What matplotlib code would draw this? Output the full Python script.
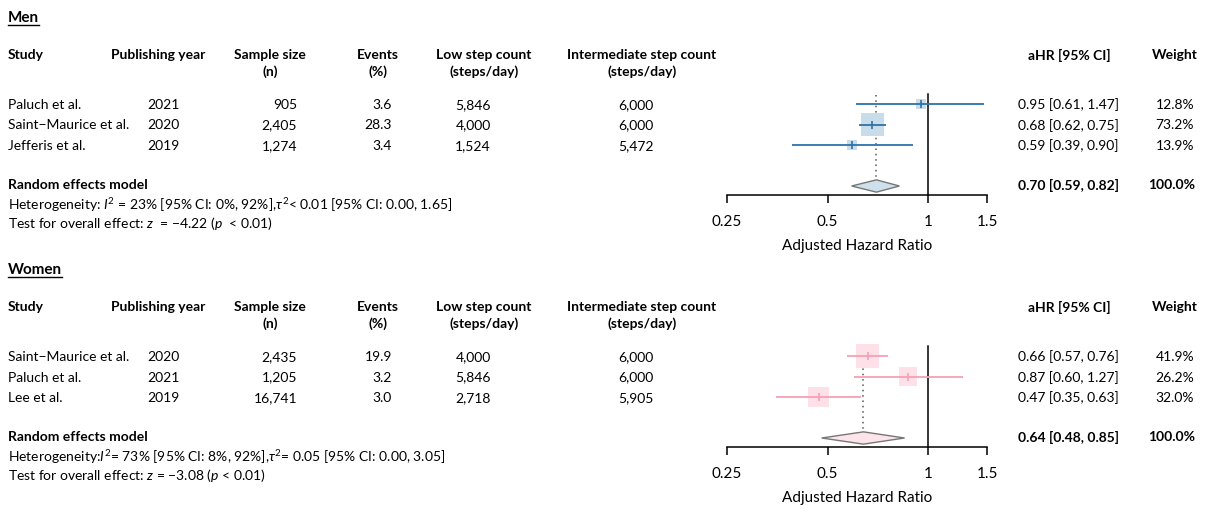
import numpy as np
import matplotlib
matplotlib.use("Agg")
import matplotlib.pyplot as plt
from matplotlib.lines import Line2D
from matplotlib.transforms import blended_transform_factory

plt.rcParams["font.family"] = ["Lato", "DejaVu Sans"]
plt.rcParams["mathtext.fontset"] = "custom"
plt.rcParams["mathtext.rm"] = "Lato"
plt.rcParams["mathtext.it"] = "Lato:italic"
plt.rcParams["mathtext.bf"] = "Lato:bold"

FS = 10

# ---- data ----
header_top = ["Study", "Publishing year", "Sample size", "Events", "Low step count",
              "Intermediate step count", "aHR [95% CI]", "Weight"]
header_bottom = ["", "", "(n)", "(%)", "(steps/day)", "(steps/day)", "", ""]

men_studies = ["Paluch et al.", "Saint\u2212Maurice et al.", "Jefferis et al."]
men_years = ["2021", "2020", "2019"]
men_n = ["905", "2,405", "1,274"]
men_events = ["3.6", "28.3", "3.4"]
men_low = ["5,846", "4,000", "1,524"]
men_mid = ["6,000", "6,000", "5,472"]
men_hr = [0.95, 0.68, 0.59]
men_lo = [0.61, 0.62, 0.39]
men_hi = [1.47, 0.75, 0.90]
men_weight = [12.8, 73.2, 13.9]
men_pooled = (0.70, 0.59, 0.82)
men_het = r"Heterogeneity: $I^2$ = 23% [95% CI: 0%, 92%],$\tau^2$< 0.01 [95% CI: 0.00, 1.65]"
men_test = r"Test for overall effect: $z$  = $-$4.22 ($p$  < 0.01)"

women_studies = ["Saint\u2212Maurice et al.", "Paluch et al.", "Lee et al."]
women_years = ["2020", "2021", "2019"]
women_n = ["2,435", "1,205", "16,741"]
women_events = ["19.9", "3.2", "3.0"]
women_low = ["4,000", "5,846", "2,718"]
women_mid = ["6,000", "6,000", "5,905"]
women_hr = [0.66, 0.87, 0.47]
women_lo = [0.57, 0.60, 0.35]
women_hi = [0.76, 1.27, 0.63]
women_weight = [41.9, 26.2, 32.0]
women_pooled = (0.64, 0.48, 0.85)
women_het = r"Heterogeneity:$I^2$= 73% [95% CI: 8%, 92%],$\tau^2$= 0.05 [95% CI: 0.00, 3.05]"
women_test = r"Test for overall effect: $z$ = $-$3.08 ($p$ < 0.01)"

total_weight = "100.0%"

xticks = [0.25, 0.5, 1, 1.5]
xticklabels = ["0.25", "0.5", "1", "1.5"]

W, H = 1207, 510
fig = plt.figure(figsize=(W / 100, H / 100), dpi=100)

ROW = 20.5  # pixels per row


def px(x):
    return x / W


def draw_panel(off, title, studies, years, ns, events, lows, mids, hr, lo, hi, weight,
               pooled, het, test, line_col, box_col, diam_col):
    # forest axes: row 1 at pixel 105+off, axis line at 196+off
    top_px, bot_px = 90 + off, 196 + off
    ax = fig.add_axes([px(727), (H - bot_px) / H, px(260), (bot_px - top_px) / H])
    ax.set_xscale("log", base=2)
    ax.set_xlim(0.25, 1.5)
    ax.set_ylim(1 + (196 - 105) / ROW, 1 + (90 - 105) / ROW)
    for s in ["top", "left", "right"]:
        ax.spines[s].set_visible(False)
    ax.spines["bottom"].set_linewidth(1.1)
    ax.set_yticks([])
    ax.set_xticks(xticks)
    ax.set_xticklabels(xticklabels, fontsize=FS + 1)
    ax.minorticks_off()
    ax.tick_params(axis="x", length=6, width=1.1, pad=8)
    ax.set_xlabel("Adjusted Hazard Ratio", fontsize=FS + 1, labelpad=7)
    ax.patch.set_visible(False)

    rows = np.arange(1, len(studies) + 1)
    pooled_row = len(studies) + 2

    ax.plot([1, 1], [0.5, ax.get_ylim()[0]], color="black", lw=1.1, clip_on=False)
    ax.plot([pooled[0], pooled[0]], [0.55, pooled_row + 0.2], color="#555555", lw=1.1,
            ls=(0, (1, 2.5)))

    # squares scaled by sqrt(weight)
    wmax = max(weight)
    sizes = (20.5 * np.sqrt(np.array(weight) / wmax)) ** 2
    ax.scatter(hr, rows, s=sizes * 0.66, marker="s", color=box_col, zorder=2, lw=0)
    ax.hlines(rows, lo, hi, color=line_col, lw=1.3, zorder=3)
    ax.scatter(hr, rows, marker="|", s=30, color=line_col, lw=1.2, zorder=4)

    est, plo, phi = pooled
    ax.fill([plo, est, phi, est], [pooled_row, pooled_row - 0.3, pooled_row, pooled_row + 0.3],
            facecolor=diam_col, edgecolor="#777777", lw=1.0, zorder=3)

    tr = blended_transform_factory(fig.transFigure, ax.transData)

    def row_y(p):
        return 1 + (p - 105) / ROW

    t = fig.text(px(8), row_y(18), title, transform=tr, fontsize=FS + 1, fontweight="bold",
                 va="center")
    fig.canvas.draw()
    bb = t.get_window_extent()
    fig.add_artist(Line2D([bb.x0 / W, bb.x1 / W], [(bb.y0 - 1) / H, (bb.y0 - 1) / H],
                          color="black", lw=1.0))

    # columns: (x pixel, alignment)
    cols = [(8, "left"), (111, "left"), (270, "center"), (378, "center"), (484, "center"),
            (642, "center"), (1069, "center"), (1175, "center")]
    for (x, ha), h1, h2 in zip(cols, header_top, header_bottom):
        fig.text(px(x), row_y(55), h1, transform=tr, fontsize=FS, fontweight="bold",
                 ha=ha, va="center")
        if h2:
            fig.text(px(x), row_y(72), h2, transform=tr, fontsize=FS, fontweight="bold",
                     ha=ha, va="center")

    for i, r in enumerate(rows):
        fig.text(px(8), r, studies[i], transform=tr, fontsize=FS, va="center")
        fig.text(px(147), r, years[i], transform=tr, fontsize=FS, va="center")
        fig.text(px(297), r, ns[i], transform=tr, fontsize=FS, va="center", ha="right")
        fig.text(px(392), r, events[i], transform=tr, fontsize=FS, va="center", ha="right")
        fig.text(px(473), r, lows[i], transform=tr, fontsize=FS, va="center", ha="center")
        fig.text(px(636), r, mids[i], transform=tr, fontsize=FS, va="center", ha="center")
        fig.text(px(1119), r, f"{hr[i]:.2f} [{lo[i]:.2f}, {hi[i]:.2f}]", transform=tr,
                 fontsize=FS, va="center", ha="right")
        fig.text(px(1194), r, f"{weight[i]:.1f}%", transform=tr, fontsize=FS, va="center",
                 ha="right")

    fig.text(px(8), row_y(185), "Random effects model", transform=tr, fontsize=FS,
             fontweight="bold", va="center")
    fig.text(px(1119), row_y(185), f"{est:.2f} [{plo:.2f}, {phi:.2f}]", transform=tr,
             fontsize=FS, fontweight="bold", va="center", ha="right")
    fig.text(px(1195), row_y(185), total_weight, transform=tr, fontsize=FS,
             fontweight="bold", va="center", ha="right")
    fig.text(px(8), row_y(205), het, transform=tr, fontsize=FS, va="center")
    fig.text(px(8), row_y(224), test, transform=tr, fontsize=FS, va="center")


draw_panel(0, "Men", men_studies, men_years, men_n, men_events, men_low, men_mid,
           men_hr, men_lo, men_hi, men_weight, men_pooled, men_het, men_test,
           "#2d73a8", "#c9dcea", "#cde0ec")
draw_panel(252, "Women", women_studies, women_years, women_n, women_events, women_low,
           women_mid, women_hr, women_lo, women_hi, women_weight, women_pooled,
           women_het, women_test, "#f6a0b4", "#fde0e8", "#fde3ea")

fig.savefig("out.png", dpi=100)
